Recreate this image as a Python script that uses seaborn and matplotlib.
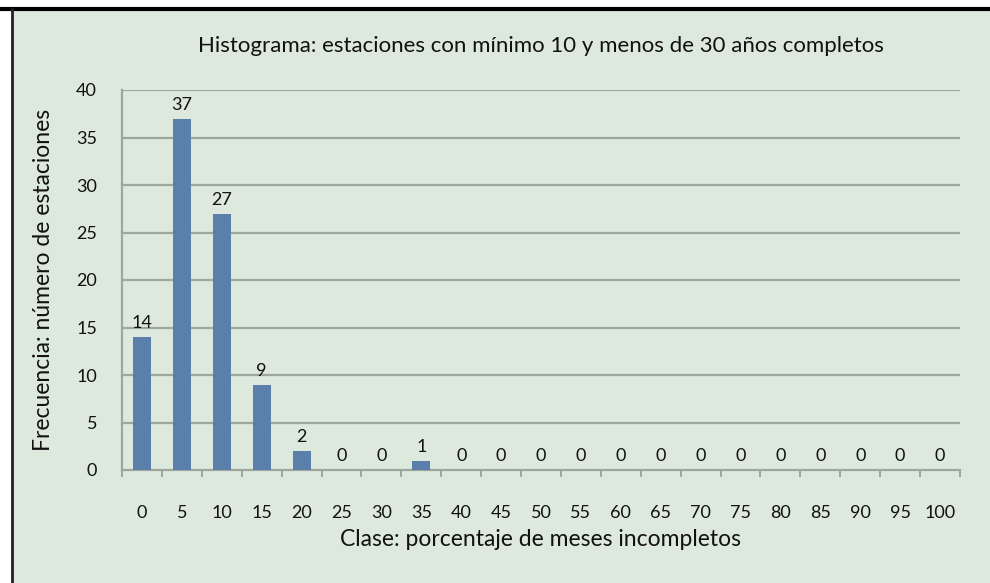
import numpy as np
import pandas as pd
import matplotlib
matplotlib.use("Agg")
import matplotlib.pyplot as plt
import seaborn as sns
from matplotlib.lines import Line2D

clases = ["0", "5", "10", "15", "20", "25", "30", "35", "40", "45", "50",
          "55", "60", "65", "70", "75", "80", "85", "90", "95", "100"]
frecuencias = [14, 37, 27, 9, 2, 0, 0, 1, 0, 0, 0, 0, 0, 0, 0, 0, 0, 0, 0, 0, 0]

df = pd.DataFrame({"clase": clases, "frecuencia": frecuencias})

sns.set_theme(style="white")
plt.rcParams["font.family"] = ["Lato", "DejaVu Sans"]

bg = "#dce9dc"
grid_c = "#9ea79e"
txt = "#111111"

fig = plt.figure(figsize=(9.9, 5.83), dpi=100)
fig.patch.set_facecolor("white")
# green panel with black top/left border
panel = plt.Rectangle((12 / 990, 0), 1 - 12 / 990, 1 - 9 / 583,
                      transform=fig.transFigure, facecolor=bg, edgecolor="none", zorder=0)
fig.add_artist(panel)
fig.add_artist(Line2D([0, 1], [1 - 9 / 583] * 2, transform=fig.transFigure, color="black", lw=3))
fig.add_artist(Line2D([12 / 990] * 2, [0, 1 - 9 / 583], transform=fig.transFigure, color="#222222", lw=2))

ax = fig.add_axes([122 / 990, 1 - 470 / 583, (960 - 122) / 990, (470 - 90) / 583])
ax.set_facecolor(bg)

sns.barplot(data=df, x="clase", y="frecuencia", order=clases, color="#5a7fab",
            width=0.45, ax=ax, zorder=3, saturation=1, linewidth=0)

for i, v in enumerate(frecuencias):
    ax.annotate(str(v), (i, v), xytext=(0, 4), textcoords="offset points",
                ha="center", va="bottom", fontsize=13, color=txt)

ax.set_ylim(0, 40)
ax.set_xlim(-0.5, len(clases) - 0.5)
ax.set_yticks(np.arange(0, 41, 5))
for y in np.arange(5, 41, 5):
    ax.axhline(y, color=grid_c, lw=1.6, zorder=1)

for s in ["top", "right"]:
    ax.spines[s].set_visible(False)
for s in ["left", "bottom"]:
    ax.spines[s].set_color(grid_c)
    ax.spines[s].set_linewidth(1.6)

ax.set_xticks(np.arange(len(clases)))
ax.set_xticklabels(clases)
ax.set_xticks(np.arange(-0.5, len(clases)), minor=True)
ax.tick_params(axis="x", which="major", length=0, pad=25, labelsize=13, labelcolor=txt)
ax.tick_params(axis="x", which="minor", length=5, width=1.4, color=grid_c, direction="out")
ax.tick_params(axis="y", length=6, width=1.6, color=grid_c, pad=12, labelsize=13, labelcolor=txt)
ax.tick_params(axis="x", which="both", bottom=True)

ax.set_xlabel("Clase: porcentaje de meses incompletos", fontsize=16.5, labelpad=6, color=txt)
ax.set_ylabel("Frecuencia: número de estaciones", fontsize=16.5, labelpad=16, color=txt)
ax.set_title("Histograma: estaciones con mínimo 10 y menos de 30 años completos",
             fontsize=16, pad=27, color=txt)

fig.savefig("out.png", dpi=100, facecolor=fig.get_facecolor())
